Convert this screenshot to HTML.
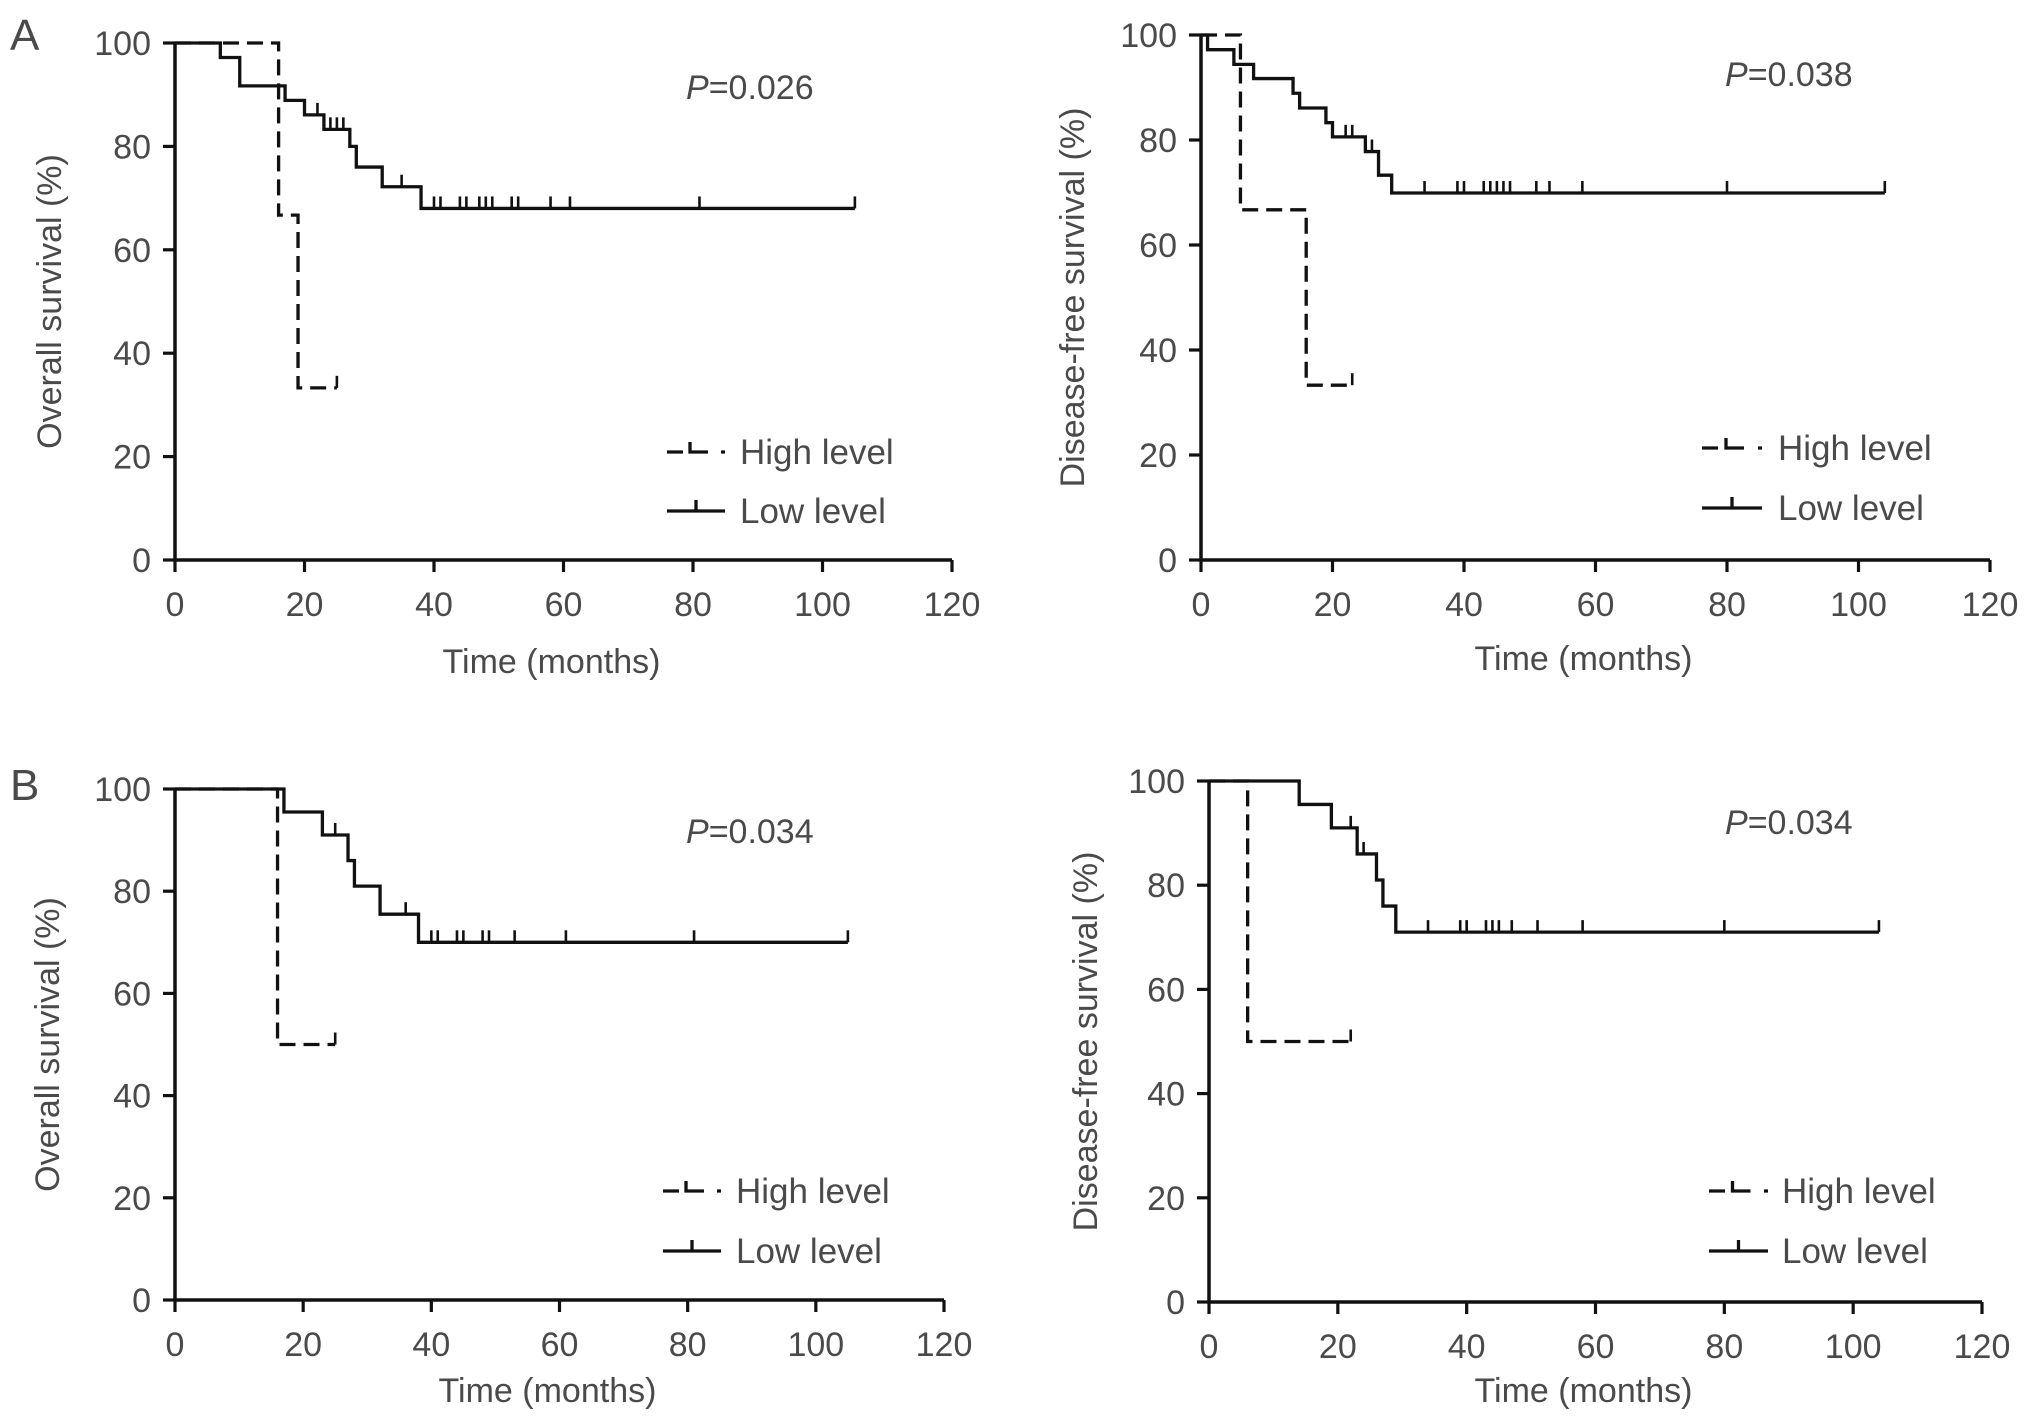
<!DOCTYPE html>
<html><head><meta charset="utf-8"><style>
html,body{margin:0;padding:0;background:#fff}
svg{display:block}
text{font-family:"Liberation Sans",sans-serif;fill:#4a4a4a}
</style></head><body>
<svg id="fig" width="2031" height="1423" viewBox="0 0 2031 1423" xmlns="http://www.w3.org/2000/svg">
<text x="10" y="50" font-size="44">A</text>
<text x="10" y="800" font-size="44">B</text>
</svg>
<script>
// ---- data ----
const xTicks = [0,20,40,60,80,100,120];
const yTicks = [0,20,40,60,80,100];
// Panel A1 overall survival
const a1LowT = [0,7,10,17,20,23,27,28,32,38];
const a1LowS = [100,97.2,91.7,88.9,86.1,83.3,80,76,72.2,68];
const a1LowEnd = 105;
const a1LowCens = [22,24,25,26,35,40,41,44,45,47,48,49,52,53,58,61,81,105];
const a1HighT = [0,16,19];
const a1HighS = [100,66.7,33.3];
const a1HighEnd = 25;
const a1HighCens = [25];
// Panel A2 disease-free survival
const a2LowT = [0,1,5,8,14,15,19,20,25,27,29];
const a2LowS = [100,97.2,94.4,91.7,88.9,86.1,83.3,80.6,77.8,73.3,69.9];
const a2LowEnd = 104;
const a2LowCens = [1,22,23,26,34,39,40,43,44,45,46,47,51,53,58,80,104];
const a2HighT = [0,6,16];
const a2HighS = [100,66.7,33.3];
const a2HighEnd = 23;
const a2HighCens = [23];
// Panel B1 overall survival
const b1LowT = [0,17,23,27,28,32,38];
const b1LowS = [100,95.5,91,86,81,75.5,70];
const b1LowEnd = 105;
const b1LowCens = [17,25,36,40,41,44,45,48,49,53,61,81,105];
const b1HighT = [0,16];
const b1HighS = [100,50];
const b1HighEnd = 25;
const b1HighCens = [25];
// Panel B2 disease-free survival
const b2LowT = [0,14,19,23,26,27,29];
const b2LowS = [100,95.5,91,86,81,76,71];
const b2LowEnd = 104;
const b2LowCens = [22,24,34,39,40,43,44,45,47,51,58,80,104];
const b2HighT = [0,6];
const b2HighS = [100,50];
const b2HighEnd = 22;
const b2HighCens = [22];
const pValues = ["0.026","0.038","0.034","0.034"];
const yTitles = ["Overall survival (%)","Disease-free survival (%)","Overall survival (%)","Disease-free survival (%)"];

const NS="http://www.w3.org/2000/svg";
const svg=document.getElementById('fig');
function mk(tag,attrs,parent){const e=document.createElementNS(NS,tag);for(const k in attrs)e.setAttribute(k,attrs[k]);(parent||svg).appendChild(e);return e;}

const panels=[
 {x0:175,x1:952,y0:560,y1:43,yt:49,xtY:673,p:[686,99],lg:[667,725,452,511,740],low:[a1LowT,a1LowS,a1LowEnd,a1LowCens],high:[a1HighT,a1HighS,a1HighEnd,a1HighCens]},
 {x0:1201,x1:1990,y0:560,y1:35,yt:1072,xtY:670,p:[1725,86],lg:[1702,1762,448,508,1778],low:[a2LowT,a2LowS,a2LowEnd,a2LowCens],high:[a2HighT,a2HighS,a2HighEnd,a2HighCens]},
 {x0:175,x1:944,y0:1300,y1:789,yt:47,xtY:1402,p:[686,843],lg:[663,721,1191,1251,736],low:[b1LowT,b1LowS,b1LowEnd,b1LowCens],high:[b1HighT,b1HighS,b1HighEnd,b1HighCens]},
 {x0:1209,x1:1982,y0:1302,y1:781,yt:1085,xtY:1402,p:[1725,834],lg:[1709,1768,1191,1251,1782],low:[b2LowT,b2LowS,b2LowEnd,b2LowCens],high:[b2HighT,b2HighS,b2HighEnd,b2HighCens]}
];

panels.forEach((P,i)=>{
 const g=mk('g',{});
 
 
 const sx=v=>P.x0+(P.x1-P.x0)*v/120;
 const sy=v=>P.y0+(P.y1-P.y0)*v/100;
 const ax=mk('path',{d:`M${P.x0},${sy(100)}V${P.y0}H${P.x1}`,stroke:'#111','stroke-width':3.5,fill:'none'},g);
 
 
 xTicks.forEach(t=>{
  mk('line',{x1:sx(t),x2:sx(t),y1:P.y0,y2:P.y0+12,stroke:'#111','stroke-width':3.2},g);
  const tx=mk('text',{x:sx(t),y:P.y0+56,'font-size':34,'text-anchor':'middle'},g);
  tx.textContent=t;
  
  
 });
 yTicks.forEach(t=>{
  mk('line',{x1:P.x0-12,x2:P.x0,y1:sy(t),y2:sy(t),stroke:'#111','stroke-width':3.2},g);
  const tx=mk('text',{x:P.x0-24,y:sy(t)+12,'font-size':34,'text-anchor':'end'},g);
  tx.textContent=t;
  
  
 });
 const yt=mk('text',{x:0,y:0,'font-size':34,'text-anchor':'middle',transform:`translate(${P.yt+12},${(P.y0+sy(100))/2}) rotate(-90)`},g);
 yt.textContent=yTitles[i];
 
 
 const xt=mk('text',{x:(P.x0+P.x1)/2-12,y:P.xtY,'font-size':34,'text-anchor':'middle'},g);
 xt.textContent='Time (months)';
 
 
 const pt=mk('text',{x:P.p[0],y:P.p[1],'font-size':34},g);
 pt.innerHTML='<tspan font-style="italic">P</tspan>='+pValues[i];
 
 
 function curve(ser,dash,name){
  const [T,S,end,C]=ser;
  let d=`M${sx(T[0])},${sy(S[0])}`;
  for(let k=1;k<T.length;k++){d+=`H${sx(T[k])}V${sy(S[k])}`;}
  d+=`H${sx(end)}`;
  const p=mk('path',{d,stroke:'#111','stroke-width':3.3,fill:'none','stroke-dasharray':dash||'none'},g);
  
  
  C.forEach(c=>{
   let s=S[0];for(let k=0;k<T.length;k++){if(T[k]<=c)s=S[k];}
   const m=mk('line',{x1:sx(c),x2:sx(c),y1:sy(s),y2:sy(s)-12,stroke:'#111','stroke-width':2.6},g);
   
   
  });
 }
 curve(P.high,'16,8','high-level-curve');
 curve(P.low,null,'low-level-curve');
 const [lx0,lx1,ly1,ly2,tx0]=P.lg, mid=(lx0+lx1)/2;
 const lg=mk('g',{},g);
 
 
 mk('path',{d:`M${lx0},${ly1}H${lx0+16}M${mid-6},${ly1-10}V${ly1}H${mid+12}M${lx1-4},${ly1}H${lx1}`,stroke:'#111','stroke-width':3.3,fill:'none'},lg);
 const t1=mk('text',{x:tx0,y:ly1+12,'font-size':35},lg);t1.textContent='High level';
 
 
 mk('path',{d:`M${lx0},${ly2}H${lx1}M${mid},${ly2}V${ly2-11}`,stroke:'#111','stroke-width':3.3,fill:'none'},lg);
 const t2=mk('text',{x:tx0,y:ly2+12,'font-size':35},lg);t2.textContent='Low level';
 
 
});
</script>
</body></html>
